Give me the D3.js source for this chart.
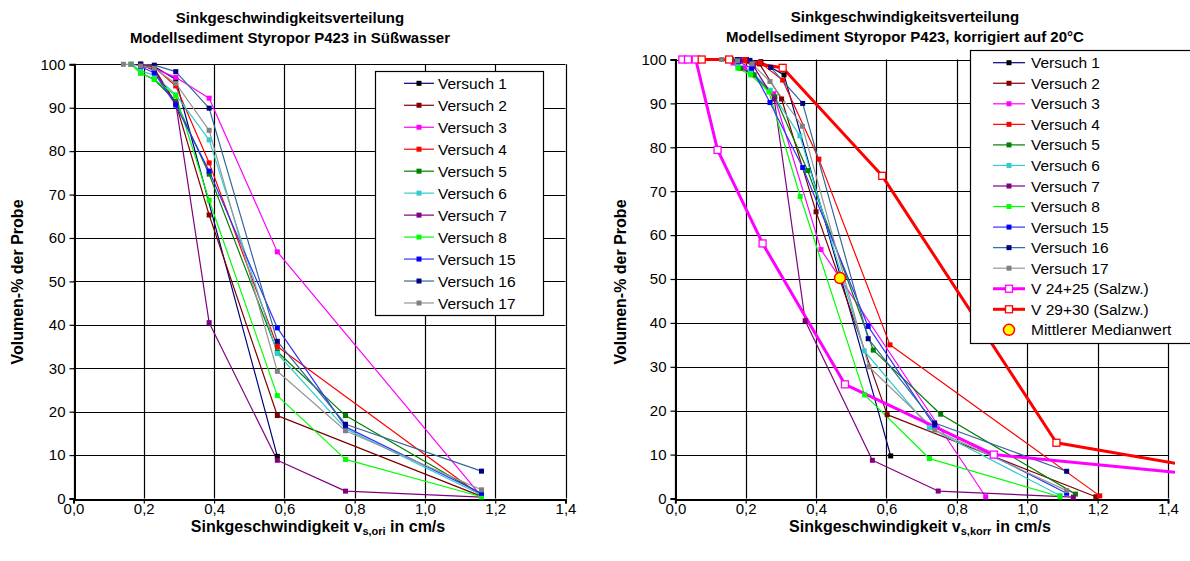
<!DOCTYPE html>
<html><head><meta charset="utf-8">
<script src="https://cdn.jsdelivr.net/npm/d3@7"></script>
<style>
body{margin:0;background:#fff}
svg{display:block}
text{font-family:"Liberation Sans",Arial,sans-serif;fill:#000}
</style>
</head><body>
<svg id="c" width="1190" height="561"></svg>
<script>
// ---------- axes ----------
const xTicks = [0, 0.2, 0.4, 0.6, 0.8, 1.0, 1.2, 1.4];
const yTicks = [0, 10, 20, 30, 40, 50, 60, 70, 80, 90, 100];

// ---------- series meta ----------
const seriesNames = ["Versuch 1","Versuch 2","Versuch 3","Versuch 4","Versuch 5","Versuch 6","Versuch 7","Versuch 8","Versuch 15","Versuch 16","Versuch 17"];
const lineColors   = ["#000080","#800000","#FF00FF","#FF0000","#008000","#33CCCC","#800080","#00FF00","#3333FF","#336699","#969696"];
const markerColors = ["#000000","#800000","#FF00FF","#FF0000","#008000","#33CCCC","#800080","#00FF00","#0000FF","#000080","#808080"];

// ---------- left chart: v_s,ori [cm/s] , Volumen-% ----------
const ori_V1  = [[0.191,100],[0.23,99.5],[0.291,96.5],[0.58,9.7]];
const ori_V2  = [[0.191,100],[0.23,99],[0.291,91],[0.386,65.3],[0.58,19.1],[1.161,0.5]];
const ori_V3  = [[0.191,99.5],[0.23,99],[0.291,97],[0.386,92.2],[0.58,56.8],[1.161,0.5]];
const ori_V4  = [[0.191,100],[0.23,99.3],[0.291,95],[0.386,77.3],[0.58,35],[1.161,0.6]];
const ori_V5  = [[0.164,100],[0.191,98],[0.23,96.5],[0.291,91.5],[0.386,74.7],[0.58,33.8],[0.774,19.1],[1.161,1.0]];
const ori_V6  = [[0.164,100],[0.191,98.5],[0.23,97.5],[0.291,93],[0.386,82.6],[0.58,33.4],[0.774,16.1],[1.161,0.8]];
const ori_V7  = [[0.191,100],[0.23,98.5],[0.291,91],[0.386,40.5],[0.58,8.8],[0.774,1.7],[1.161,0.3]];
const ori_V8  = [[0.164,100],[0.191,98],[0.23,96.5],[0.291,92.8],[0.386,68.7],[0.58,23.7],[0.774,9.0],[1.161,0.4]];
const ori_V15 = [[0.191,99.5],[0.23,98],[0.291,90.6],[0.386,75.4],[0.58,39.3],[0.774,16.5],[1.161,1.2]];
const ori_V16 = [[0.191,100],[0.23,99.8],[0.291,98.3],[0.386,89.9],[0.58,36.2],[0.774,17.1],[1.161,6.3]];
const ori_V17 = [[0.142,100],[0.164,100],[0.191,99.6],[0.23,99.1],[0.291,95.6],[0.386,84.8],[0.58,29.3],[0.774,15.6],[1.161,2.0]];

// ---------- right chart: v_s,korr [cm/s] , Volumen-% ----------
const korr_V1  = [[0.202,100],[0.243,99.5],[0.309,96.5],[0.612,9.7]];
const korr_V2  = [[0.198,100],[0.239,99],[0.302,91],[0.40,65.3],[0.602,19.1],[1.195,0.4]];
const korr_V3  = [[0.164,99.2],[0.197,98.1],[0.279,92.2],[0.414,56.7],[0.882,0.4]];
const korr_V4  = [[0.20,100],[0.241,99.3],[0.305,95.3],[0.408,77.3],[0.61,35],[1.206,0.6]];
const korr_V5  = [[0.16,100],[0.186,98],[0.224,96.5],[0.283,91.5],[0.376,74.7],[0.5625,33.8],[0.754,19.2],[1.137,1.0]];
const korr_V6  = [[0.153,100],[0.178,98.5],[0.214,97.5],[0.27,93],[0.354,82.6],[0.537,33.6],[0.722,16.1],[1.093,0.7]];
const korr_V7  = [[0.184,100],[0.222,98.5],[0.281,91],[0.369,40.5],[0.56,8.7],[0.747,1.7],[1.131,0.3]];
const korr_V8  = [[0.153,100],[0.178,98],[0.214,96.5],[0.266,92.6],[0.355,68.8],[0.538,23.6],[0.722,9.1],[1.093,0.4]];
const korr_V15 = [[0.18,99.5],[0.217,98],[0.269,90.2],[0.362,75.4],[0.548,39.2],[0.737,16.5],[1.112,1.2]];
const korr_V16 = [[0.176,100],[0.212,99.8],[0.271,98.2],[0.362,90.0],[0.548,36.4],[0.737,17.2],[1.112,6.2]];
const korr_V17 = [[0.132,100],[0.155,100],[0.177,99.7],[0.218,99],[0.269,95.0],[0.361,84.8],[0.55,30.0],[0.737,15.6],[1.112,1.8]];
const korr_V24_25 = [[0.02,100],[0.036,100],[0.058,100],[0.12,79.4],[0.248,58.1],[0.482,26.0],[0.905,10.0],[1.42,6.0]];
const korr_V29_30 = [[0.075,100],[0.153,100],[0.305,98.1],[0.588,73.5],[1.083,12.7],[1.42,8.0]];
const korr_Median = [[0.468,50.2]];

const oriData  = [ori_V1,ori_V2,ori_V3,ori_V4,ori_V5,ori_V6,ori_V7,ori_V8,ori_V15,ori_V16,ori_V17];
const korrData = [korr_V1,korr_V2,korr_V3,korr_V4,korr_V5,korr_V6,korr_V7,korr_V8,korr_V15,korr_V16,korr_V17];

const svg = d3.select("#c");
const fmt = d => d3.format(".1f")(d).replace(".", ",");

function drawChart(cfg){
  const g = svg.append("g");
  const x = d3.scaleLinear().domain([0,1.4]).range([cfg.left, cfg.right]);
  const y = d3.scaleLinear().domain([0,100]).range([cfg.bottom, cfg.top]);

  // grid
  g.append("g").selectAll("line").data(yTicks).join("line")
    .attr("x1",cfg.left).attr("x2",cfg.right)
    .attr("y1",d=>Math.round(y(d))+0.5).attr("y2",d=>Math.round(y(d))+0.5)
    .attr("stroke","#000").attr("stroke-width",1.2);
  g.append("g").selectAll("line").data(xTicks).join("line")
    .attr("x1",d=>Math.round(x(d))+0.5).attr("x2",d=>Math.round(x(d))+0.5)
    .attr("y1",cfg.top).attr("y2",cfg.bottom)
    .attr("stroke","#000").attr("stroke-width",1.2);

  // axes
  const xa = d3.axisBottom(x).tickValues(xTicks).tickSize(4).tickPadding(0).tickFormat(fmt);
  const ya = d3.axisLeft(y).tickValues(yTicks).tickSize(5).tickPadding(4).tickFormat(d3.format("d"));
  const gx = g.append("g").attr("transform",`translate(0,${Math.round(cfg.bottom)+0.5})`).call(xa);
  const gy = g.append("g").attr("transform",`translate(${Math.round(cfg.left)+0.5},0)`).call(ya);
  [gx,gy].forEach(a=>{
    a.select(".domain").attr("stroke","#000").attr("stroke-width",2);
    a.selectAll(".tick line").attr("stroke","#000").attr("stroke-width",1.2);
    a.selectAll("text").attr("font-size",15).attr("font-family","Liberation Sans, Arial, sans-serif").attr("fill","#000");
  });

  // clip
  const clipId = "clip"+cfg.id;
  svg.append("clipPath").attr("id",clipId).append("rect")
    .attr("x",cfg.left).attr("y",cfg.top-8).attr("width",cfg.clipRight-cfg.left).attr("height",cfg.bottom-cfg.top+16);
  const pg = g.append("g").attr("clip-path",`url(#${clipId})`);

  const line = d3.line().x(d=>x(d[0])).y(d=>y(d[1]));
  cfg.series.forEach(s=>{
    if(s.line!==false){
      pg.append("path").datum(s.data).attr("d",line).attr("fill","none")
        .attr("stroke",s.color).attr("stroke-width",s.width).attr("stroke-linejoin","round");
    }
  });
  cfg.series.forEach(s=>{
    const pts = s.data.filter(d=>d[0]<=1.4);
    if(s.marker==="sq"){
      pg.append("g").selectAll("rect").data(pts).join("rect")
        .attr("x",d=>x(d[0])-2.5).attr("y",d=>y(d[1])-2.5).attr("width",5).attr("height",5)
        .attr("fill",s.mcolor);
    } else if(s.marker==="open"){
      pg.append("g").selectAll("rect").data(pts).join("rect")
        .attr("x",d=>x(d[0])-3.5).attr("y",d=>y(d[1])-3.5).attr("width",7).attr("height",7)
        .attr("fill","#fff").attr("stroke",s.mcolor).attr("stroke-width",1.3);
    } else if(s.marker==="circle"){
      pg.append("g").selectAll("circle").data(pts).join("circle")
        .attr("cx",d=>x(d[0])).attr("cy",d=>y(d[1])).attr("r",5.5)
        .attr("fill","#FFFF00").attr("stroke","#FF0000").attr("stroke-width",1.5);
    }
  });

  // titles
  const t = g.append("text").attr("text-anchor","middle").attr("font-weight","bold").attr("font-size",15);
  t.append("tspan").attr("x",cfg.titleX).attr("y",cfg.titleY).text(cfg.title1);
  t.append("tspan").attr("x",cfg.titleX).attr("y",cfg.titleY+19.5).text(cfg.title2);

  const xt = g.append("text").attr("text-anchor","middle").attr("font-weight","bold").attr("font-size",16)
    .attr("x",cfg.xTitleX).attr("y",532);
  xt.append("tspan").text("Sinkgeschwindigkeit v");
  xt.append("tspan").attr("font-size",11).attr("dy",3).text(cfg.sub);
  xt.append("tspan").attr("dy",-3).text(" in cm/s");

  g.append("text").attr("text-anchor","middle").attr("font-weight","bold").attr("font-size",16)
    .attr("transform",`translate(${cfg.yTitleX},282) rotate(-90)`).text("Volumen-% der Probe");

  // legend
  const L = cfg.legend;
  g.append("rect").attr("x",L.x+0.5).attr("y",L.y+0.5).attr("width",L.w).attr("height",L.h)
    .attr("fill","#fff").attr("stroke","#000").attr("stroke-width",1.2);
  cfg.series.forEach((s,i)=>{
    const yy = L.row0 + i*L.step;
    const lg = g.append("g");
    if(s.line!==false){
      lg.append("line").attr("x1",L.lx1).attr("x2",L.lx2).attr("y1",yy).attr("y2",yy)
        .attr("stroke",s.color).attr("stroke-width",s.width);
    }
    const mx = (L.lx1+L.lx2)/2;
    if(s.marker==="sq"){
      lg.append("rect").attr("x",mx-2.5).attr("y",yy-2.5).attr("width",5).attr("height",5).attr("fill",s.mcolor);
    } else if(s.marker==="open"){
      lg.append("rect").attr("x",mx-3.5).attr("y",yy-3.5).attr("width",7).attr("height",7)
        .attr("fill","#fff").attr("stroke",s.mcolor).attr("stroke-width",1.3);
    } else if(s.marker==="circle"){
      lg.append("circle").attr("cx",mx).attr("cy",yy).attr("r",5.5)
        .attr("fill","#FFFF00").attr("stroke","#FF0000").attr("stroke-width",1.5);
    }
    lg.append("text").attr("x",L.tx).attr("y",yy+5.5).attr("font-size",15.5).text(s.name);
  });
}

const leftSeries = seriesNames.map((n,i)=>({name:n,data:oriData[i],color:lineColors[i],mcolor:markerColors[i],width:1.2,marker:"sq"}));
const rightSeries = seriesNames.map((n,i)=>({name:n,data:korrData[i],color:lineColors[i],mcolor:markerColors[i],width:1.2,marker:"sq"}))
  .concat([
    {name:"V 24+25 (Salzw.)",data:korr_V24_25,color:"#FF00FF",mcolor:"#FF00FF",width:3,marker:"open"},
    {name:"V 29+30 (Salzw.)",data:korr_V29_30,color:"#FF0000",mcolor:"#FF0000",width:3,marker:"open"},
    {name:"Mittlerer Medianwert",data:korr_Median,line:false,marker:"circle"}
  ]);

drawChart({id:"L",left:73.5,right:565.5,top:64.3,bottom:498.5,clipRight:567,
  series:leftSeries,title1:"Sinkgeschwindigkeitsverteilung",title2:"Modellsediment Styropor P423 in Süßwasser",
  titleX:290,titleY:23,sub:"s,ori",xTitleX:318,yTitleX:23,
  legend:{x:375,y:71,w:168,h:244,row0:83.3,step:21.97,lx1:404,lx2:434,tx:438}});

drawChart({id:"R",left:675.3,right:1168,top:59.5,bottom:498.5,clipRight:1175,
  series:rightSeries,title1:"Sinkgeschwindigkeitsverteilung",title2:"Modellsediment Styropor P423, korrigiert auf 20°C",
  titleX:905,titleY:22,sub:"s,korr",xTitleX:920,yTitleX:626,
  legend:{x:970,y:50,w:240,h:293,row0:62.7,step:20.55,lx1:993,lx2:1025,tx:1031}});
</script>
</body></html>
